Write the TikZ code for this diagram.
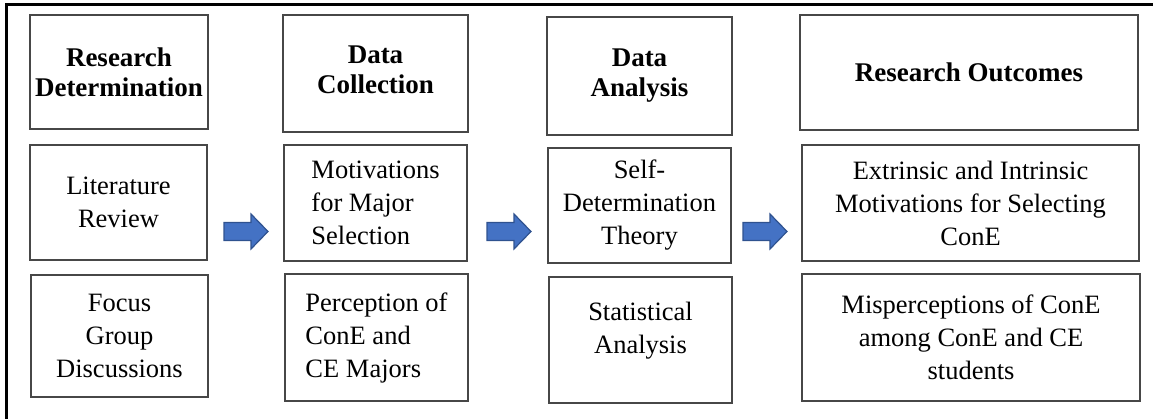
\documentclass[tikz,border=0pt]{standalone}
\usepackage{fontspec}
\setmainfont{Liberation Serif}
\usetikzlibrary{positioning}
\definecolor{arrowblue}{HTML}{4472C4}
\definecolor{arrowedge}{HTML}{2F528F}
\begin{document}
\begin{tikzpicture}[x=1pt, y=-1pt,
        box/.style={rectangle, draw=black!72, line width=1.4pt, inner sep=0pt, align=center},
        titlebox/.style={box, font=\fontsize{27}{30}\selectfont\bfseries},
        itembox/.style={box, font=\fontsize{26.5}{33}\selectfont},
        flowarrow/.style={fill=arrowblue, draw=arrowedge, line width=1.2pt, line join=miter}
    ]
        \useasboundingbox (0,0) rectangle (1153,419);

        % --- Marco exterior (solo lados superior e izquierdo) ---
        \draw[line width=3pt] (6.5,419) -- (6.5,4.5) -- (1153,4.5);

        % --- Columna 1: Research Determination ---
        \node[titlebox, minimum width=178, minimum height=114] (detTitle) at (119,72) {Research\\Determination};
        \node[itembox, minimum width=177, minimum height=115] (litReview) at (118.5,202.5) {Literature\\Review};
        \node[itembox, minimum width=177, minimum height=122] (focusGroup) at (119.5,336) {Focus\\Group\\Discussions};

        % --- Columna 2: Data Collection ---
        \node[titlebox, text depth=8pt, minimum width=185, minimum height=117] (colTitle) at (375.5,73.5) {Data\\Collection};
        \node[itembox, align=left, minimum width=183, minimum height=116] (motivMajor) at (375.5,203) {Motivations\\for Major\\Selection};
        \node[itembox, align=left, minimum width=183, minimum height=127] (perception) at (376.5,337.5) {Perception of\\ConE and\\CE Majors};

        % --- Columna 3: Data Analysis ---
        \node[titlebox, minimum width=185, minimum height=118] (anaTitle) at (639.5,76) {Data\\Analysis};
        \node[itembox, minimum width=183, minimum height=115] (sdTheory) at (639.5,205.5) {Self-\\Determination\\Theory};
        \node[itembox, text depth=24pt, minimum width=183, minimum height=126] (statAnalysis) at (640.5,340) {Statistical\\Analysis};

        % --- Columna 4: Research Outcomes ---
        \node[titlebox, minimum width=338, minimum height=115] (outTitle) at (969,72.5) {Research Outcomes};
        \node[itembox, minimum width=337, minimum height=116] (motivOut) at (970.5,203) {Extrinsic and Intrinsic\\Motivations for Selecting\\ConE};
        \node[itembox, minimum width=338, minimum height=127] (mispercep) at (971,337.5) {Misperceptions of ConE\\among ConE and CE\\students};

        % ================= FLECHAS ENTRE COLUMNAS =================
        \coordinate (gapA) at (224,231.5);
        \coordinate (gapB) at (487,231.5);
        \coordinate (gapC) at (743,231.5);

        \foreach \g in {gapA, gapB, gapC}
            \draw[flowarrow] (\g) ++(0,-9) -- ++(27,0) -- ++(0,-8.5) -- ++(17,17.5)
                -- ++(-17,17.5) -- ++(0,-8.5) -- ++(-27,0) -- cycle;

    \end{tikzpicture}
\end{document}
